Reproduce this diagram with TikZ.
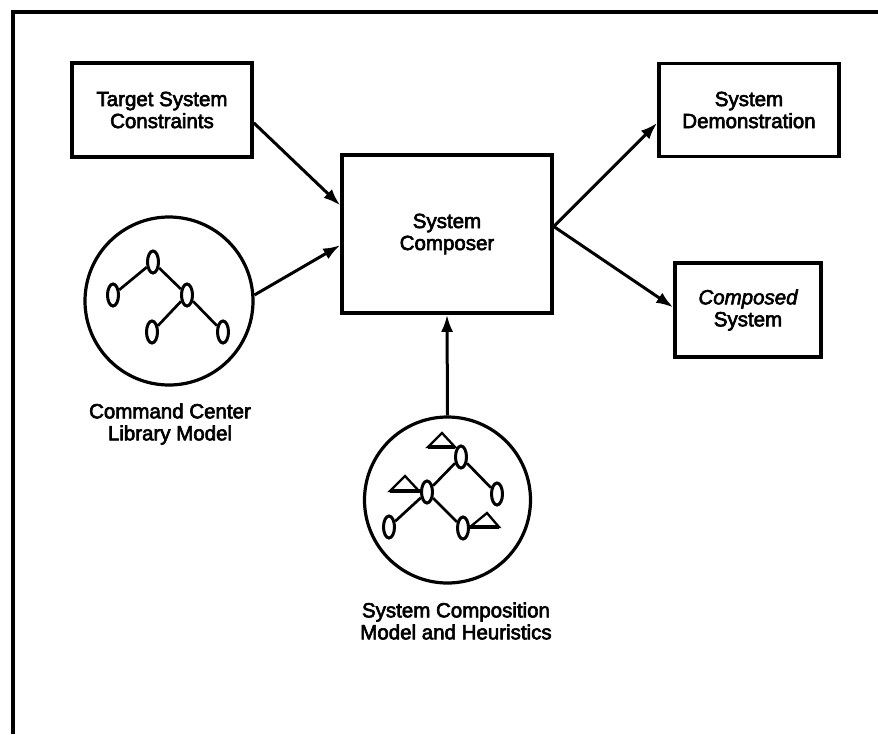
\documentclass[tikz,border=0pt]{standalone}
\usepackage{fontspec}
\setmainfont{Liberation Sans}[FakeBold=3]
\usetikzlibrary{arrows.meta,shapes.geometric}
\begin{document}
\begin{tikzpicture}[x=1pt,y=-1pt,
  every node/.style={font=\fontsize{20.5}{22}\selectfont},
  box/.style={draw, line width=3.6pt, rectangle, align=center, inner sep=0pt},
  ring/.style={draw, line width=3.2pt, circle, inner sep=0pt},
  flow/.style={line width=3pt, -{Latex[length=17pt,width=12pt]}},
  vert/.style={draw, ellipse, fill=white, line width=3pt, minimum width=11pt, minimum height=22pt, inner sep=0pt},
  link/.style={line width=2.7pt},
  tri/.style={line width=2.3pt, line join=miter},
  tribase/.style={line width=4pt},
  caption/.style={align=center}
]
\useasboundingbox (0,0) rectangle (878,734);

% page frame (left and top rules)
\draw[line width=4pt] (13,734) -- (13,12) -- (878,12);

% blocks
\node[box, minimum width=180pt, minimum height=94pt] (tsc) at (162,110) {Target System\\Constraints};
\node[box, minimum width=210pt, minimum height=158pt] (comp) at (447,234) {System\\Composer};
\node[box, minimum width=180pt, minimum height=93pt] (demo) at (749,110) {System\\Demonstration};
\node[box, minimum width=146pt, minimum height=94pt] (done) at (748,310) {\itshape Composed\\System};

% library model
\node[ring, minimum size=168pt] (lib) at (169,301) {};
\node[caption] (libtext) at (170,424) {Command Center\\Library Model};
\node[vert] (a1) at (153,262) {};
\node[vert] (a2) at (113,295) {};
\node[vert] (a3) at (187,295) {};
\node[vert] (a4) at (152,332) {};
\node[vert] (a5) at (223,332) {};
\draw[link] (a1) -- (a2);
\draw[link] (a1) -- (a3);
\draw[link] (a3) -- (a4);
\draw[link] (a3) -- (a5);

% composition model and heuristics
\node[ring, minimum size=166pt] (heur) at (447.5,500) {};
\node[caption] (heurtext) at (456,621) {System Composition\\Model and Heuristics};
\node[vert] (b1) at (461,457) {};
\node[vert] (b2) at (497,494) {};
\node[vert] (b3) at (427,492) {};
\node[vert] (b4) at (389,527) {};
\node[vert] (b5) at (463,528) {};
\draw[link] (b1) -- (b3);
\draw[link] (b1) -- (b2);
\draw[link] (b3) -- (b4);
\draw[link] (b3) -- (b5);

% heuristic markers
\draw[tri] (442,433) -- (455,447) -- (428,447) -- cycle;
\draw[tribase] (428,447) -- (455,447);
\draw[tri] (405,476) -- (419,491) -- (390,491) -- cycle;
\draw[tribase] (390,491) -- (421,491);
\draw[tri] (487,513) -- (499,527) -- (470,527) -- cycle;
\draw[tribase] (468,527) -- (499,527);

% flows
\draw[flow] (tsc.-8) -- (comp.165);
\draw[flow] (lib.4) -- (comp.186);
\draw[flow] (comp.4) -- (demo.188);
\draw[flow] (comp.4) -- (done.178);
\draw[flow] (heur.north) -- (comp.south);
\end{tikzpicture}
\end{document}
